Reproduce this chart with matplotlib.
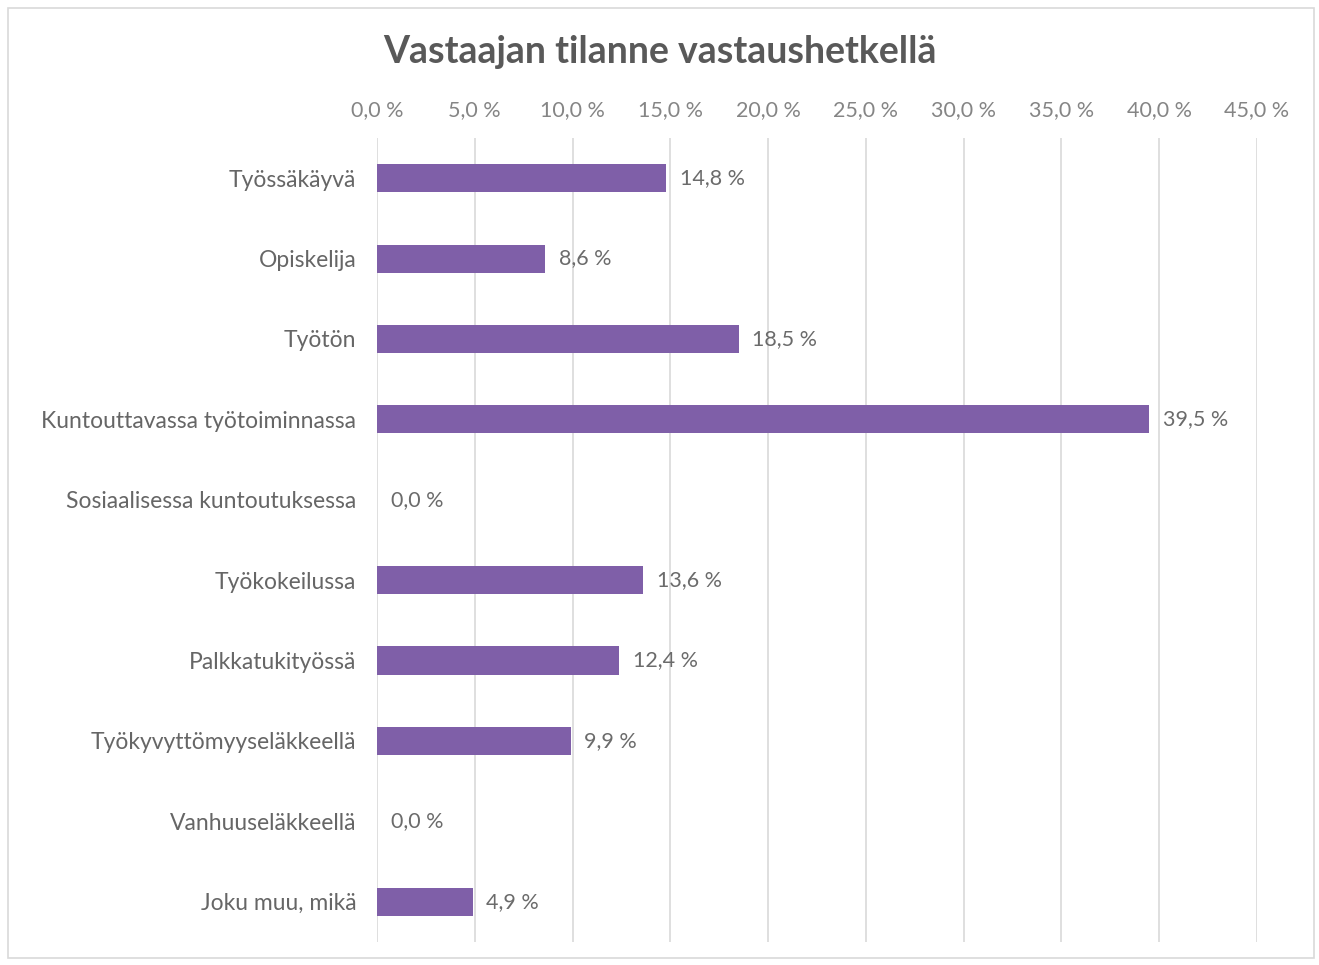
import matplotlib.pyplot as plt
from matplotlib.patches import Rectangle
from matplotlib.ticker import FuncFormatter

categories = ['Työssäkäyvä', 'Opiskelija', 'Työtön', 'Kuntouttavassa työtoiminnassa',
              'Sosiaalisessa kuntoutuksessa', 'Työkokeilussa', 'Palkkatukityössä',
              'Työkyvyttömyyseläkkeellä', 'Vanhuuseläkkeellä', 'Joku muu, mikä']
values = [14.8, 8.6, 18.5, 39.5, 0.0, 13.6, 12.4, 9.9, 0.0, 4.9]
ticks = [0, 5, 10, 15, 20, 25, 30, 35, 40, 45]

plt.rcParams['font.family'] = ['Lato', 'DejaVu Sans']

def pct(v):
    return ('%.1f %%' % v).replace('.', ',')

fig = plt.figure(figsize=(13.19, 9.65), dpi=100)
# thin frame around the whole chart
fig.patches.append(Rectangle((0.006, 0.007), 0.99, 0.985, transform=fig.transFigure,
                             fill=False, edgecolor='#d9d9d9', linewidth=1.2))

ax = fig.add_axes([0.2858, 0.024, 0.6672, 0.833])
y = range(len(categories))
ax.barh(y, values, height=0.35, color='#7f5fa8')
ax.set_ylim(len(categories) - 0.5, -0.5)
ax.set_xlim(0, 45)

for i, v in enumerate(values):
    ax.text(v + 0.7, i, pct(v), va='center', ha='left', fontsize=15.5, color='#6b6b6b')

ax.set_xticks(ticks)
ax.xaxis.set_major_formatter(FuncFormatter(lambda v, p: pct(v)))
ax.xaxis.tick_top()
ax.tick_params(axis='x', length=0, labelsize=15.5, labelcolor='#858585', pad=13)
ax.set_yticks(list(y))
ax.set_yticklabels(categories)
ax.tick_params(axis='y', length=0, labelsize=16.5, labelcolor='#666666', pad=15)
ax.grid(axis='x', color='#d9d9d9', linewidth=1.2)
ax.set_axisbelow(True)
for s in ax.spines.values():
    s.set_visible(False)

fig.text(0.5, 0.946, 'Vastaajan tilanne vastaushetkellä', ha='center', va='center',
         fontsize=27, fontweight='bold', color='#595959')

fig.savefig('out.png', dpi=100)
